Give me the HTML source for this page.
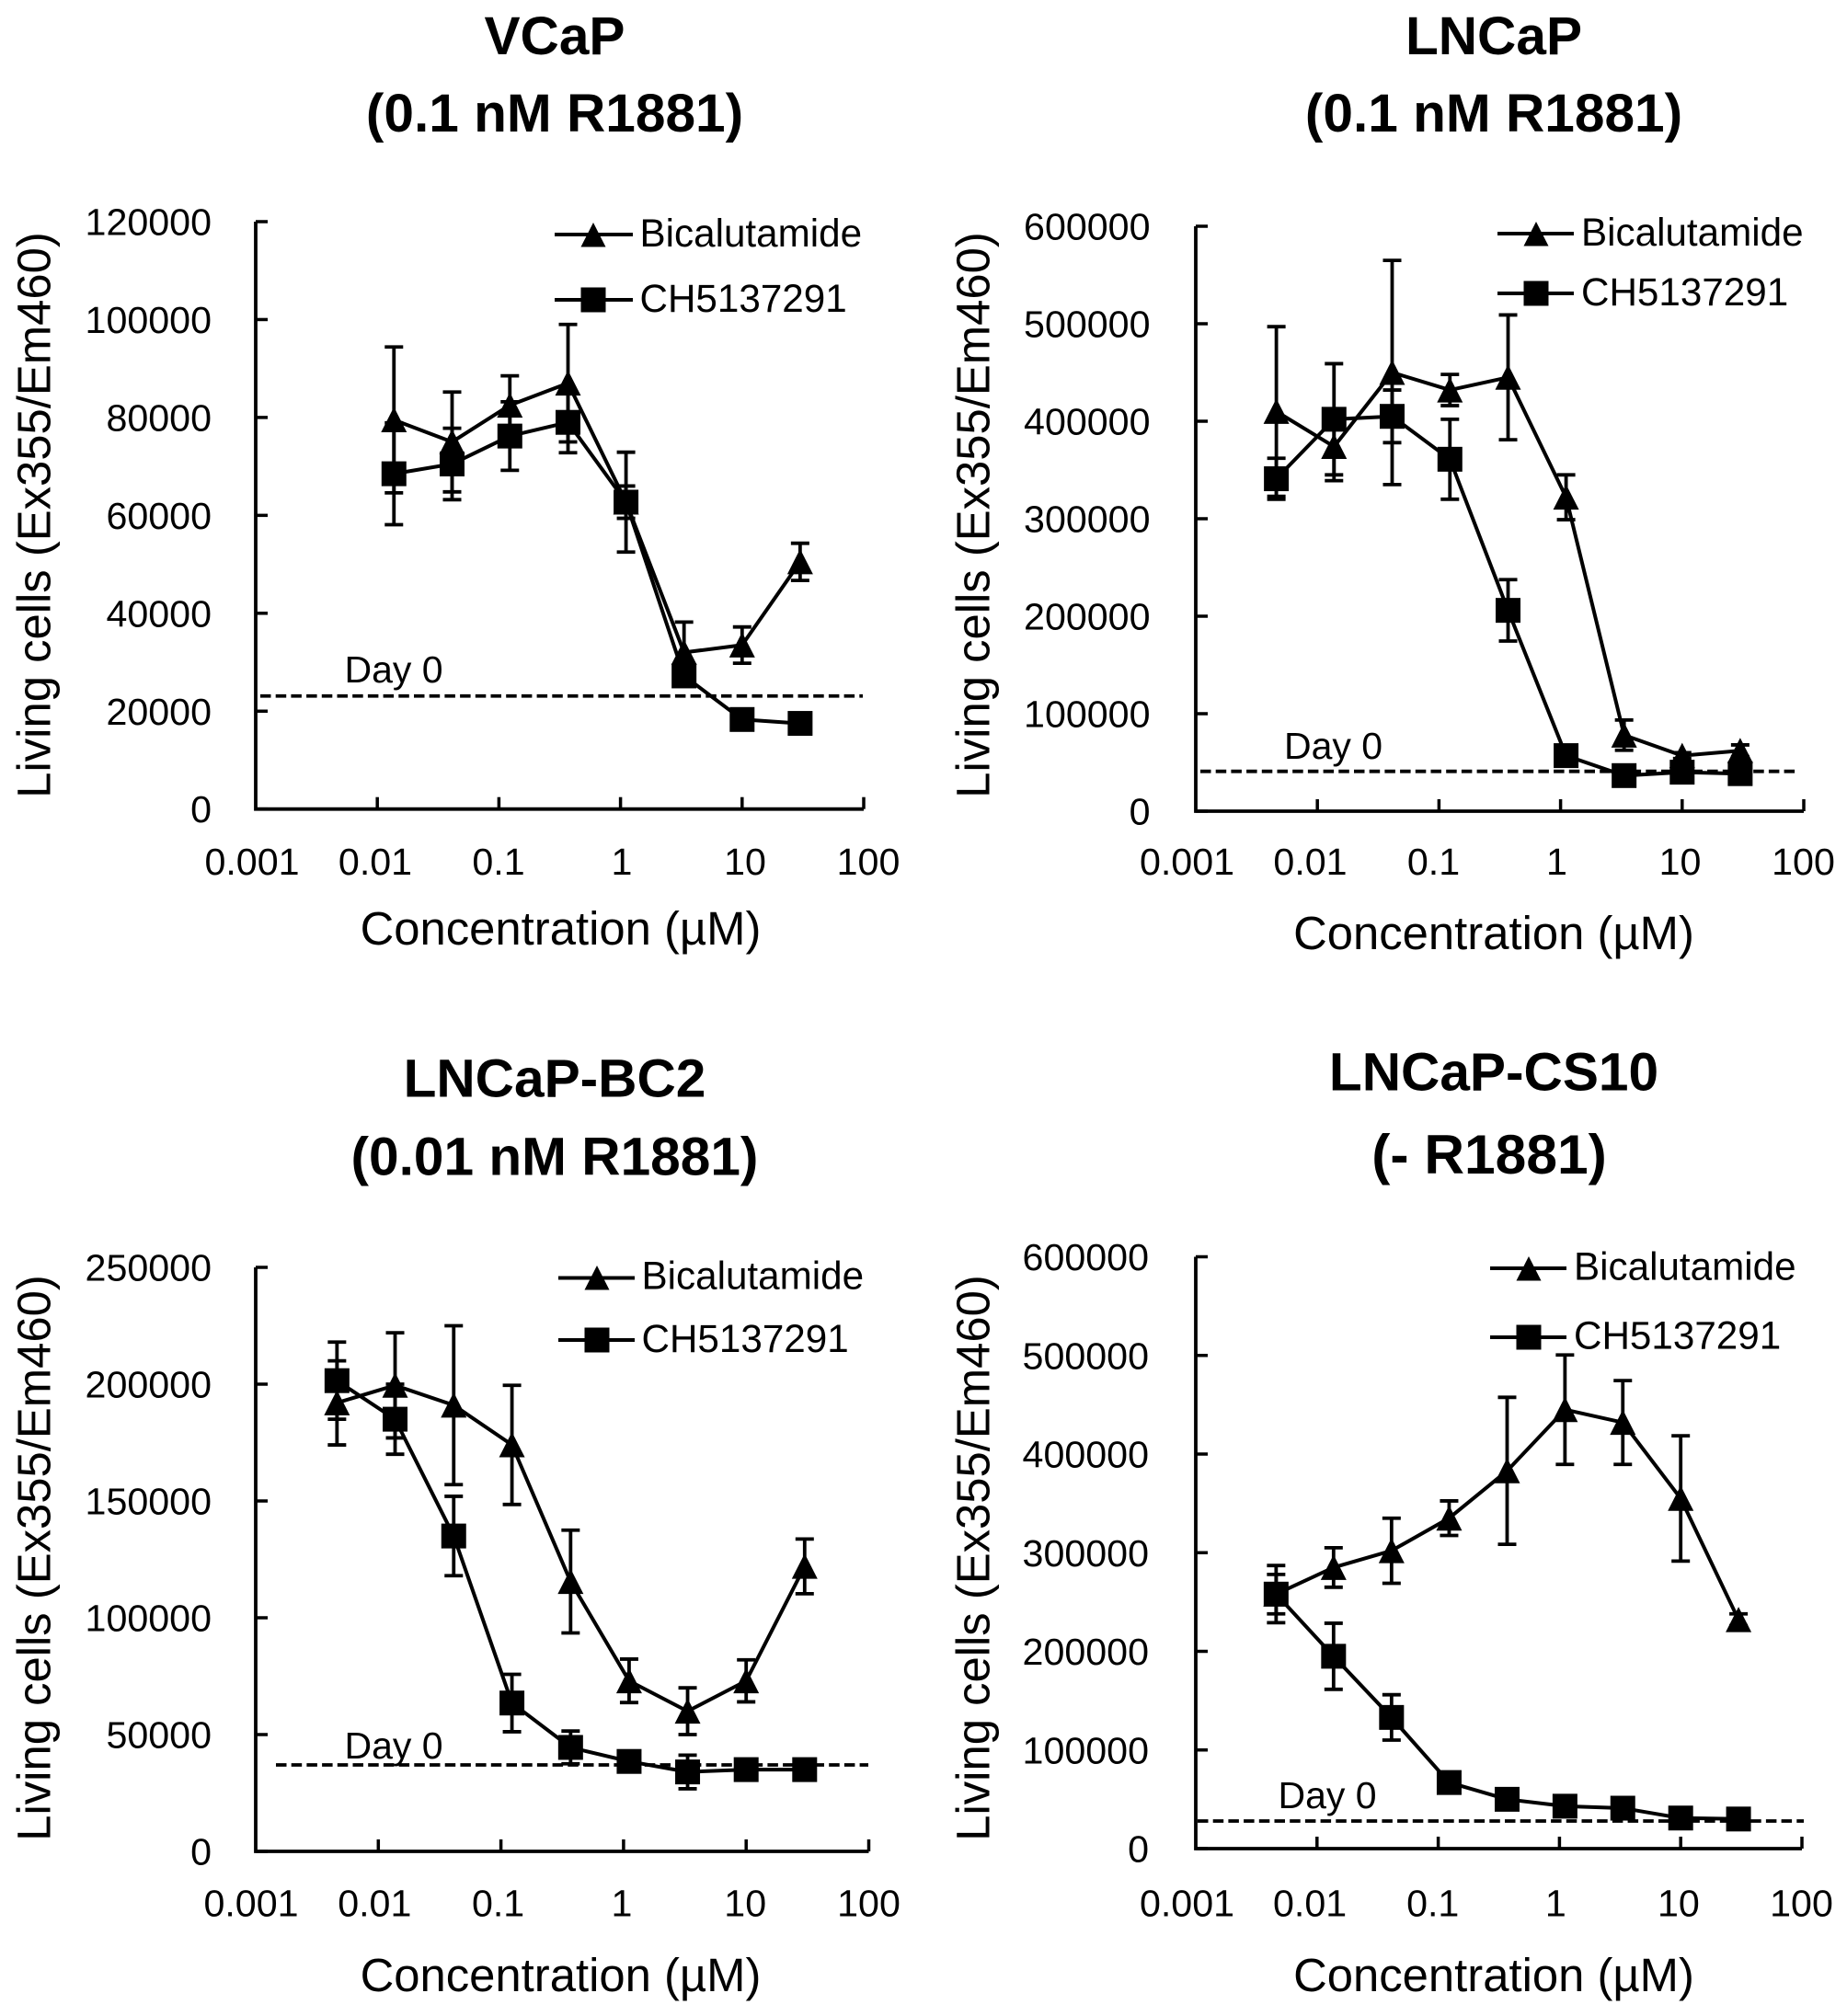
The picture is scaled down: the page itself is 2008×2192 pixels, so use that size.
<!DOCTYPE html>
<html lang="en">
<head>
<meta charset="utf-8">
<title>Cell line dose response charts</title>
<style>
html,body{margin:0;padding:0;background:#fff}
svg{display:block}
text{font-family:"Liberation Sans",Arial,sans-serif;fill:#000}
.title{font-size:58.6px;font-weight:bold;text-anchor:middle}
.axt{font-size:50.8px;text-anchor:middle}
.leg{font-size:42.2px}
.day{font-size:41px}
.tick{font-size:41.2px}
</style>
</head>
<body>
<svg id="figure" width="2008" height="2192" viewBox="0 0 2008 2192" xmlns="http://www.w3.org/2000/svg">
<rect width="2008" height="2192" fill="#fff"/>

<g id="vcap">
  <text class="title" x="603" y="59">VCaP</text>
  <text class="title" x="603" y="143">(0.1 nM R1881)</text>
  <text class="axt" transform="translate(54.5,560) rotate(-90)">Living cells (Ex355/Em460)</text>
  <text class="axt" x="609.5" y="1027">Concentration (µM)</text>
  <text class="day" x="374.5" y="742">Day 0</text>
  <g>
    <line x1="603" x2="688" y1="255" y2="255" stroke="#000" stroke-width="3.9"/>
    <polygon points="631.5,268.5 658.5,268.5 645,242" fill="#000"/>
    <text class="leg" x="695.5" y="268">Bicalutamide</text>
  </g>
  <g>
    <line x1="603" x2="688" y1="326" y2="326" stroke="#000" stroke-width="3.9"/>
    <rect x="631.5" y="312.5" width="27" height="27" fill="#000"/>
    <text class="leg" x="695.5" y="339">CH5137291</text>
  </g>
</g>

<g id="lncap">
  <text class="title" x="1624" y="59">LNCaP</text>
  <text class="title" x="1624" y="143">(0.1 nM R1881)</text>
  <text class="axt" transform="translate(1075.5,560) rotate(-90)">Living cells (Ex355/Em460)</text>
  <text class="axt" x="1624" y="1032">Concentration (µM)</text>
  <text class="day" x="1396" y="825">Day 0</text>
  <g>
    <line x1="1628" x2="1711" y1="254" y2="254" stroke="#000" stroke-width="3.9"/>
    <polygon points="1656.5,267.5 1683.5,267.5 1670,241" fill="#000"/>
    <text class="leg" x="1719" y="267">Bicalutamide</text>
  </g>
  <g>
    <line x1="1628" x2="1711" y1="319" y2="319" stroke="#000" stroke-width="3.9"/>
    <rect x="1656.5" y="305.5" width="27" height="27" fill="#000"/>
    <text class="leg" x="1719" y="332">CH5137291</text>
  </g>
</g>

<g id="bc2">
  <text class="title" x="603" y="1192.5">LNCaP-BC2</text>
  <text class="title" x="603" y="1277.5">(0.01 nM R1881)</text>
  <text class="axt" transform="translate(54.5,1694) rotate(-90)">Living cells (Ex355/Em460)</text>
  <text class="axt" x="609.5" y="2165">Concentration (µM)</text>
  <text class="day" x="374.5" y="1912">Day 0</text>
  <g>
    <line x1="607" x2="690" y1="1389.5" y2="1389.5" stroke="#000" stroke-width="3.9"/>
    <polygon points="635.5,1402.5 662.5,1402.5 649,1376" fill="#000"/>
    <text class="leg" x="697.5" y="1401.5">Bicalutamide</text>
  </g>
  <g>
    <line x1="607" x2="690" y1="1457" y2="1457" stroke="#000" stroke-width="3.9"/>
    <rect x="635.5" y="1443.5" width="27" height="27" fill="#000"/>
    <text class="leg" x="697.5" y="1470">CH5137291</text>
  </g>
</g>

<g id="cs10">
  <text class="title" x="1624" y="1185.5">LNCaP-CS10</text>
  <text class="title" x="1619" y="1276" style="font-size:60.5px">(- R1881)</text>
  <text class="axt" transform="translate(1075.5,1694) rotate(-90)">Living cells (Ex355/Em460)</text>
  <text class="axt" x="1624" y="2165">Concentration (µM)</text>
  <text class="day" x="1389.5" y="1966">Day 0</text>
  <g>
    <line x1="1620" x2="1703" y1="1379" y2="1379" stroke="#000" stroke-width="3.9"/>
    <polygon points="1648.5,1392.5 1675.5,1392.5 1662,1366" fill="#000"/>
    <text class="leg" x="1711" y="1391.5">Bicalutamide</text>
  </g>
  <g>
    <line x1="1620" x2="1703" y1="1454" y2="1454" stroke="#000" stroke-width="3.9"/>
    <rect x="1648.5" y="1440.5" width="27" height="27" fill="#000"/>
    <text class="leg" x="1711" y="1466.5">CH5137291</text>
  </g>
</g>
</svg>

<script>
// Shared x axis
const xTickValues = [0.001, 0.01, 0.1, 1, 10, 100];
const xTickLabels = ['0.001', '0.01', '0.1', '1', '10', '100'];

// VCaP
const vcapConc = [0.0137, 0.0412, 0.123, 0.37, 1.11, 3.33, 10, 30];
const vcapBic = [79500, 75000, 82500, 87000, 62700, 32000, 33500, 50500];
const vcapBicErr = [14900, 10200, 6000, 12000, 3300, 6200, 3700, 3800];
const vcapCh = [68500, 70500, 76200, 79000, 62700, 27200, 18300, 17500];
const vcapChErr = [10400, 7300, 7000, 6200, 10200, 0, 0, 0];
const vcapYTicks = [0, 20000, 40000, 60000, 80000, 100000, 120000];
const vcapDay0 = 23100;

// LNCaP
const lncapConc = [0.0046, 0.0137, 0.0412, 0.123, 0.37, 1.11, 3.33, 10, 30];
const lncapBic = [410000, 374000, 450000, 432000, 445000, 322000, 78000, 57000, 62000];
const lncapBicErr = [87000, 35000, 115000, 16000, 64000, 23000, 15500, 3000, 6000];
const lncapCh = [341000, 402000, 405000, 361000, 206000, 57000, 36500, 40000, 38500];
const lncapChErr = [21000, 57000, 27000, 41000, 31500, 0, 0, 0, 0];
const lncapYTicks = [0, 100000, 200000, 300000, 400000, 500000, 600000];
const lncapDay0 = 40850;

// LNCaP-BC2
const bc2Conc = [0.0046, 0.0137, 0.0412, 0.123, 0.37, 1.11, 3.33, 10, 30];
const bc2Bic = [192000, 199500, 191000, 174000, 115500, 73000, 60000, 73000, 122000];
const bc2BicErr = [18000, 22500, 34000, 25500, 22000, 9300, 10000, 9000, 11700];
const bc2Ch = [201500, 185000, 135000, 63500, 44500, 38500, 34000, 35000, 35000];
const bc2ChErr = [16500, 15000, 17000, 12300, 7000, 2000, 7200, 3000, 0];
const bc2YTicks = [0, 50000, 100000, 150000, 200000, 250000];
const bc2Day0 = 37000;

// LNCaP-CS10
const cs10Conc = [0.0046, 0.0137, 0.0412, 0.123, 0.37, 1.11, 3.33, 10, 30];
const cs10Bic = [258000, 285000, 302000, 335000, 383000, 445000, 432000, 355000, 232000];
const cs10BicErr = [29000, 20000, 33000, 17500, 74500, 55500, 42500, 63500, 6000];
const cs10Ch = [258000, 195000, 133000, 67000, 50000, 43000, 41000, 31000, 30000];
const cs10ChErr = [20000, 33500, 23000, 0, 0, 0, 0, 0, 0];
const cs10YTicks = [0, 100000, 200000, 300000, 400000, 500000, 600000];
const cs10Day0 = 28000;

const SVGNS = 'http://www.w3.org/2000/svg';

function make(parent, tag, attrs, text) {
  const el = document.createElementNS(SVGNS, tag);
  for (const k in attrs) el.setAttribute(k, attrs[k]);
  if (text !== undefined) el.textContent = text;
  parent.appendChild(el);
  return el;
}

function drawSeries(g, name, marker, conc, vals, errs, X, Y) {
  const series = make(g, 'g', {});
  
  
  conc.forEach(function (c, i) {
    if (!errs[i]) return;
    const px = X(c), hi = Y(vals[i] + errs[i]), lo = Y(vals[i] - errs[i]);
    const bar = make(series, 'path', {
      d: 'M' + (px - 10) + ' ' + hi + 'H' + (px + 10) + 'M' + px + ' ' + hi + 'V' + lo + 'M' + (px - 10) + ' ' + lo + 'H' + (px + 10),
      fill: 'none', stroke: '#000', 'stroke-width': 3.8
    });
    
    
  });
  const pts = conc.map(function (c, i) { return X(c).toFixed(1) + ',' + Y(vals[i]).toFixed(1); }).join(' ');
  const line = make(series, 'polyline', { points: pts, fill: 'none', stroke: '#000', 'stroke-width': 4, 'stroke-linejoin': 'round' });
  
  
  conc.forEach(function (c, i) {
    const px = X(c), py = Y(vals[i]);
    let m;
    if (marker === 'triangle') {
      m = make(series, 'polygon', { points: (px - 14) + ',' + (py + 13.5) + ' ' + (px + 14) + ',' + (py + 13.5) + ' ' + px + ',' + (py - 14), fill: '#000' });
    } else {
      m = make(series, 'rect', { x: px - 13.5, y: py - 13.5, width: 27, height: 27, fill: '#000' });
    }
    
    
  });
}

function drawPanel(id, box, yTicks, day0, conc, bic, bicErr, ch, chErr) {
  const g = document.getElementById(id);
  const yMax = yTicks[yTicks.length - 1];
  const X = function (c) { return box.left + (Math.log10(c) + 3) * (box.right - box.left) / 5; };
  const Y = function (v) { return box.bottom - v / yMax * (box.bottom - box.top); };

  const axes = make(g, 'path', {
    d: 'M' + box.left + ' ' + box.top + 'V' + box.bottom + 'H' + box.right,
    fill: 'none', stroke: '#000', 'stroke-width': 3.8
  });
  
  

  yTicks.forEach(function (v) {
    const tick = make(g, 'line', { x1: box.left, x2: box.left + 13, y1: Y(v), y2: Y(v), stroke: '#000', 'stroke-width': 3.5 });
    
    
    const label = make(g, 'text', { class: 'tick', x: box.yLabelRight, y: Y(v) + 14.5, 'text-anchor': 'end' }, String(v));
    
    
  });

  xTickValues.forEach(function (v, i) {
    if (i > 0) {
      const tick = make(g, 'line', { x1: X(v), x2: X(v), y1: box.bottom, y2: box.bottom - 13, stroke: '#000', 'stroke-width': 3.5 });
      
      
    }
    const label = make(g, 'text', { class: 'tick', x: X(v) + box.labelShift + box.labelStep * i, y: box.xLabelBase, 'text-anchor': 'middle' }, xTickLabels[i]);
    
    
  });

  const dash = make(g, 'line', { x1: box.dashFrom, x2: box.dashTo, y1: Y(day0), y2: Y(day0), stroke: '#000', 'stroke-width': 3.8, 'stroke-dasharray': '11.5 5.2' });
  
  

  drawSeries(g, 'bicalutamide', 'triangle', conc, bic, bicErr, X, Y);
  drawSeries(g, 'ch5137291', 'square', conc, ch, chErr, X, Y);
}

drawPanel('vcap', { left: 278, right: 939, top: 241, bottom: 879.7, yLabelRight: 230, xLabelBase: 951, labelShift: -4, labelStep: 1.8, dashFrom: 283, dashTo: 938 }, vcapYTicks, vcapDay0, vcapConc, vcapBic, vcapBicErr, vcapCh, vcapChErr);
drawPanel('lncap', { left: 1300, right: 1961, top: 246, bottom: 882, yLabelRight: 1250.5, xLabelBase: 951, labelShift: -9.5, labelStep: 1.8, dashFrom: 1305, dashTo: 1955 }, lncapYTicks, lncapDay0, lncapConc, lncapBic, lncapBicErr, lncapCh, lncapChErr);
drawPanel('bc2', { left: 278, right: 944.5, top: 1378, bottom: 2013, yLabelRight: 230, xLabelBase: 2083.5, labelShift: -5, labelStep: 1, dashFrom: 300, dashTo: 944 }, bc2YTicks, bc2Day0, bc2Conc, bc2Bic, bc2BicErr, bc2Ch, bc2ChErr);
drawPanel('cs10', { left: 1300, right: 1959, top: 1366.5, bottom: 2010, yLabelRight: 1249, xLabelBase: 2083.5, labelShift: -9.5, labelStep: 1.8, dashFrom: 1302, dashTo: 1961 }, cs10YTicks, cs10Day0, cs10Conc, cs10Bic, cs10BicErr, cs10Ch, cs10ChErr);
</script>
</body>
</html>
